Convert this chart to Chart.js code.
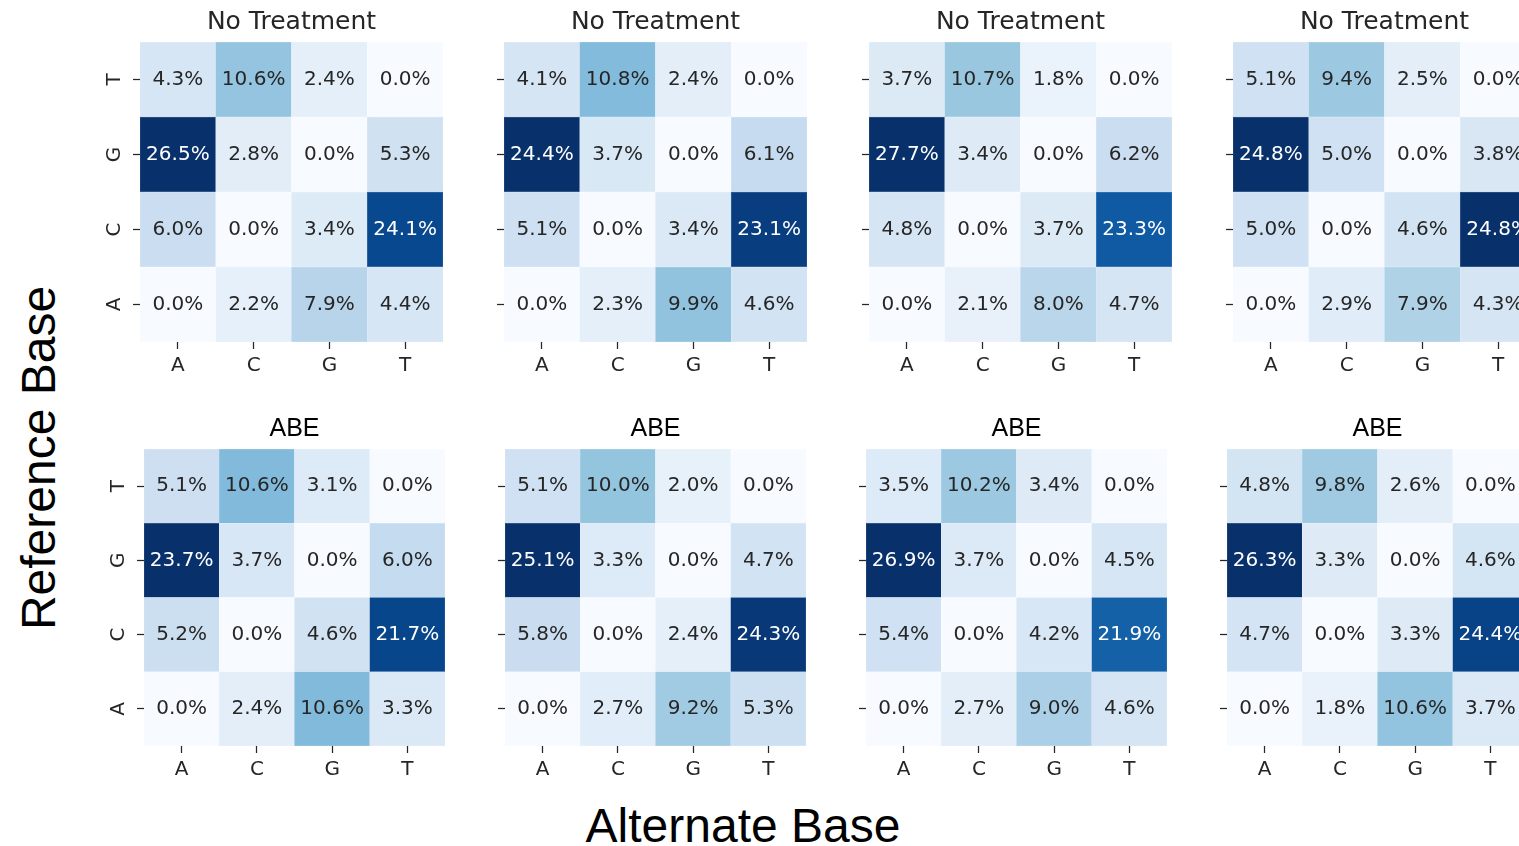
<!DOCTYPE html>
<html>
<head>
<meta charset="utf-8">
<script src="https://cdn.jsdelivr.net/npm/chart.js@4.4.1/dist/chart.umd.min.js"></script>
<style>
  html, body { margin: 0; padding: 0; background: #fff; }
  #page { position: relative; width: 1519px; height: 846px; overflow: hidden; background: #fff; }
  #page canvas { position: absolute; }
  .axis-title {
    position: absolute; font-family: 'Liberation Sans', Arial, sans-serif;
    font-size: 48px; line-height: 48px; height: 48px; width: 420px;
    color: #000; white-space: nowrap; text-align: center;
  }
  #ytitle { left: -171px; top: 434px; transform: rotate(-90deg); }
  #xtitle { left: 533px; top: 802px; }
</style>
</head>
<body>
<div id="page">
  <div class="axis-title" id="ytitle">Reference Base</div>
  <div class="axis-title" id="xtitle">Alternate Base</div>
</div>
<script>
// Alternate base (columns) and reference base (rows, listed bottom to top)
const altBases = ['A', 'C', 'G', 'T'];
const refBases = ['A', 'C', 'G', 'T'];
const panelTitles = ['No Treatment', 'No Treatment', 'No Treatment', 'No Treatment', 'ABE', 'ABE', 'ABE', 'ABE'];

// Substitution frequencies in percent.
// Each array: rows = reference A, C, G, T; columns = alternate A, C, G, T.
const noTreatment1 = [[0.0, 2.2, 7.9, 4.4], [6.0, 0.0, 3.4, 24.1], [26.5, 2.8, 0.0, 5.3], [4.3, 10.6, 2.4, 0.0]];
const noTreatment2 = [[0.0, 2.3, 9.9, 4.6], [5.1, 0.0, 3.4, 23.1], [24.4, 3.7, 0.0, 6.1], [4.1, 10.8, 2.4, 0.0]];
const noTreatment3 = [[0.0, 2.1, 8.0, 4.7], [4.8, 0.0, 3.7, 23.3], [27.7, 3.4, 0.0, 6.2], [3.7, 10.7, 1.8, 0.0]];
const noTreatment4 = [[0.0, 2.9, 7.9, 4.3], [5.0, 0.0, 4.6, 24.8], [24.8, 5.0, 0.0, 3.8], [5.1, 9.4, 2.5, 0.0]];
const abe1 = [[0.0, 2.4, 10.6, 3.3], [5.2, 0.0, 4.6, 21.7], [23.7, 3.7, 0.0, 6.0], [5.1, 10.6, 3.1, 0.0]];
const abe2 = [[0.0, 2.7, 9.2, 5.3], [5.8, 0.0, 2.4, 24.3], [25.1, 3.3, 0.0, 4.7], [5.1, 10.0, 2.0, 0.0]];
const abe3 = [[0.0, 2.7, 9.0, 4.6], [5.4, 0.0, 4.2, 21.9], [26.9, 3.7, 0.0, 4.5], [3.5, 10.2, 3.4, 0.0]];
const abe4 = [[0.0, 1.8, 10.6, 3.7], [4.7, 0.0, 3.3, 24.4], [26.3, 3.3, 0.0, 4.6], [4.8, 9.8, 2.6, 0.0]];

const panelValues = [noTreatment1, noTreatment2, noTreatment3, noTreatment4, abe1, abe2, abe3, abe4];

// Plot-area boxes (left, top, width, height) for the 2 x 4 grid
const plotBoxes = [
  { x: 140, y: 42, w: 303, h: 300 }, { x: 504, y: 42, w: 303, h: 300 },
  { x: 869, y: 42, w: 303, h: 300 }, { x: 1233, y: 42, w: 303, h: 300 },
  { x: 144, y: 449, w: 301, h: 297 }, { x: 505, y: 449, w: 301, h: 297 },
  { x: 866, y: 449, w: 301, h: 297 }, { x: 1227, y: 449, w: 301, h: 297 }
];

const TEXT_DARK = '#262626';
const Y_AXIS_W = 60, TITLE_H = 44, X_AXIS_H = 46;

// Sequential "Blues" colour ramp
const bluesStops = ['#f7fbff', '#deebf7', '#c6dbef', '#9ecae1', '#6baed6', '#4292c6', '#2171b5', '#08519c', '#08306b']
  .map(h => [1, 3, 5].map(i => parseInt(h.substr(i, 2), 16)));

function blues(t) {
  t = Math.max(0, Math.min(1, t));
  const p = t * (bluesStops.length - 1);
  const k = Math.min(bluesStops.length - 2, Math.floor(p));
  const f = p - k;
  return bluesStops[k].map((c, i) => c + (bluesStops[k + 1][i] - c) * f);
}
const rgb = c => `rgb(${c.map(v => Math.round(v)).join(',')})`;
const lighten = (c, a) => c.map(v => v + (255 - v) * a);
function luminance(c) {
  const lin = c.map(v => { v /= 255; return v <= 0.03928 ? v / 12.92 : Math.pow((v + 0.055) / 1.055, 2.4); });
  return 0.2126 * lin[0] + 0.7152 * lin[1] + 0.0722 * lin[2];
}

// Writes the percentage in the middle of every cell
const cellLabels = {
  id: 'cellLabels',
  afterDatasetsDraw(chart) {
    const ctx = chart.ctx;
    ctx.save();
    ctx.font = '20px "DejaVu Sans"';
    ctx.textAlign = 'center';
    ctx.textBaseline = 'middle';
    chart.data.datasets.forEach((ds, di) => {
      chart.getDatasetMeta(di).data.forEach((bar, j) => {
        ctx.fillStyle = ds.textColors[j];
        ctx.fillText(ds.values[j].toFixed(1) + '%', bar.x, (bar.y + bar.base) / 2);
      });
    });
    ctx.restore();
  }
};

const page = document.getElementById('page');

function drawPanel(idx) {
  const values = panelValues[idx];
  const box = plotBoxes[idx];
  const isAbe = idx >= 4;
  const showRowLabels = idx % 4 === 0;
  const vmax = Math.max(...values.flat());

  const canvas = document.createElement('canvas');
  const cw = box.w + 2 * Y_AXIS_W, ch = box.h + TITLE_H + X_AXIS_H;
  canvas.width = cw; canvas.height = ch;
  canvas.style.width = cw + 'px'; canvas.style.height = ch + 'px';
  canvas.style.left = (box.x - Y_AXIS_W) + 'px';
  canvas.style.top = (box.y - TITLE_H) + 'px';
  page.appendChild(canvas);

  const datasets = refBases.map((ref, r) => {
    const cols = values[r].map(v => blues(v / vmax));
    return {
      label: ref,
      data: altBases.map(() => [r, r + 1]),
      values: values[r],
      textColors: cols.map(c => (luminance(c) > 0.408 ? TEXT_DARK : '#ffffff')),
      backgroundColor: cols.map(rgb),
      borderColor: cols.map(c => rgb(lighten(c, 0.35))),
      borderWidth: 0.5,
      borderSkipped: false,
      grouped: false,
      barPercentage: 1,
      categoryPercentage: 1
    };
  });

  const tickGrid = {
    display: true, drawOnChartArea: false, drawTicks: true, offset: false,
    tickLength: 7, tickWidth: 1.25, tickColor: TEXT_DARK
  };

  new Chart(canvas, {
    type: 'bar',
    data: { labels: altBases, datasets },
    options: {
      responsive: false,
      animation: false,
      events: [],
      layout: { padding: { left: 0, right: Y_AXIS_W, top: 0, bottom: 0 } },
      plugins: {
        legend: { display: false },
        tooltip: { enabled: false },
        title: {
          display: true,
          fullSize: false,
          text: panelTitles[idx],
          color: isAbe ? '#000' : TEXT_DARK,
          font: { family: isAbe ? 'Liberation Sans' : 'DejaVu Sans', size: 25, weight: 'normal', lineHeight: 1.2 },
          padding: { top: 9.5, bottom: 4.5 }
        }
      },
      scales: {
        x: {
          type: 'category',
          offset: true,
          grid: tickGrid,
          border: { display: false },
          ticks: { color: TEXT_DARK, font: { family: 'DejaVu Sans', size: 20 }, padding: 5, maxRotation: 0, autoSkip: false },
          afterFit: s => { s.height = X_AXIS_H; }
        },
        y: {
          type: 'linear',
          min: 0,
          max: refBases.length,
          grid: tickGrid,
          border: { display: false },
          ticks: {
            display: showRowLabels,
            color: TEXT_DARK,
            font: { family: 'DejaVu Sans', size: 20 },
            minRotation: 90, maxRotation: 90,
            crossAlign: 'center',
            padding: 10,
            autoSkip: false,
            callback: v => refBases[Math.floor(v)]
          },
          afterBuildTicks: s => { s.ticks = refBases.map((_, k) => ({ value: k + 0.5 })); },
          afterFit: s => { s.width = Y_AXIS_W; }
        }
      }
    },
    plugins: [cellLabels]
  });
}

Chart.defaults.font.family = 'DejaVu Sans';
panelValues.forEach((_, i) => drawPanel(i));
</script>
</body>
</html>
